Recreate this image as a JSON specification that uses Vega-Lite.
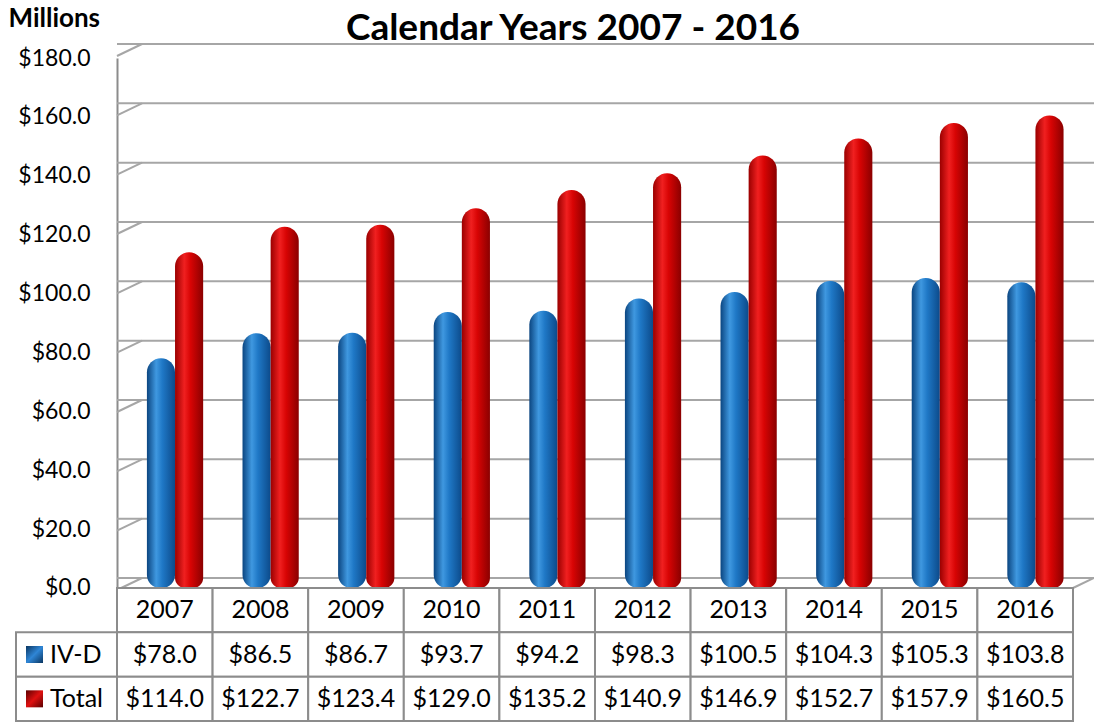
{
  "$schema": "https://vega.github.io/schema/vega-lite/v6.json",
  "width": 956,
  "height": 663,
  "autosize": {"type": "none"},
  "padding": {"left": 117, "top": 58, "right": 21, "bottom": 2},
  "background": "white",
  "config": {"view": {"stroke": null}, "font": "Lato"},
  "title": {"text": "Calendar Years 2007 - 2016", "font": "Lato", "fontSize": 37, "fontWeight": "bold", "color": "black", "anchor": "middle", "frame": "group", "dx": -22, "dy": 47},
  "datasets": {
    "d": [
      {"year": "2007", "series": "IV-D", "value": 78.0},
      {"year": "2008", "series": "IV-D", "value": 86.5},
      {"year": "2009", "series": "IV-D", "value": 86.7},
      {"year": "2010", "series": "IV-D", "value": 93.7},
      {"year": "2011", "series": "IV-D", "value": 94.2},
      {"year": "2012", "series": "IV-D", "value": 98.3},
      {"year": "2013", "series": "IV-D", "value": 100.5},
      {"year": "2014", "series": "IV-D", "value": 104.3},
      {"year": "2015", "series": "IV-D", "value": 105.3},
      {"year": "2016", "series": "IV-D", "value": 103.8},
      {"year": "2007", "series": "Total", "value": 114.0},
      {"year": "2008", "series": "Total", "value": 122.7},
      {"year": "2009", "series": "Total", "value": 123.4},
      {"year": "2010", "series": "Total", "value": 129.0},
      {"year": "2011", "series": "Total", "value": 135.2},
      {"year": "2012", "series": "Total", "value": 140.9},
      {"year": "2013", "series": "Total", "value": 146.9},
      {"year": "2014", "series": "Total", "value": 152.7},
      {"year": "2015", "series": "Total", "value": 157.9},
      {"year": "2016", "series": "Total", "value": 160.5}
    ],
    "grid": [
      {"v": 0}, {"v": 20}, {"v": 40}, {"v": 60}, {"v": 80},
      {"v": 100}, {"v": 120}, {"v": 140}, {"v": 160}, {"v": 180}
    ]
  },
  "layer": [
    {
      "layer": [
        {
          "data": {"name": "grid"},
          "mark": {"type": "rule", "color": "#a6a6a6", "strokeWidth": 2, "xOffset": 25, "x2Offset": 21},
          "encoding": {
            "y": {"field": "v", "type": "quantitative", "scale": {"domain": [-48.2, 175.28], "nice": false, "zero": false}, "axis": null}
          }
        },
        {
          "data": {"name": "grid"},
          "mark": {"type": "rule", "color": "#a6a6a6", "strokeWidth": 2, "yOffset": 12, "x2Offset": 25},
          "encoding": {
            "x": {"datum": "2007", "type": "nominal", "bandPosition": 0, "scale": {"type": "band", "paddingInner": 0, "paddingOuter": 0}, "axis": null},
            "x2": {"datum": "2007", "bandPosition": 0},
            "y": {"field": "v", "type": "quantitative", "scale": {"domain": [-48.2, 175.28], "nice": false, "zero": false}, "axis": null},
            "y2": {"field": "v"}
          }
        },
        {
          "data": {"name": "grid"},
          "transform": [{"filter": "datum.v === 0"}],
          "mark": {"type": "rule", "color": "#a6a6a6", "strokeWidth": 2, "yOffset": 10, "x2Offset": 21},
          "encoding": {
            "x": {"datum": "2016", "type": "nominal", "bandPosition": 1, "scale": {"type": "band", "paddingInner": 0, "paddingOuter": 0}, "axis": null},
            "x2": {"datum": "2016", "bandPosition": 1},
            "y": {"field": "v", "type": "quantitative", "scale": {"domain": [-48.2, 175.28], "nice": false, "zero": false}, "axis": null},
            "y2": {"field": "v"}
          }
        },
        {
          "data": {"name": "d"},
          "transform": [{"filter": "datum.series === 'IV-D'"}],
          "mark": {
            "type": "bar",
            "cornerRadiusTopLeft": 14, "cornerRadiusTopRight": 14, "cornerRadiusBottomLeft": 13, "cornerRadiusBottomRight": 13,
            "color": {"gradient": "linear", "x1": 0, "x2": 1, "y1": 0, "y2": 0, "stops": [
              {"offset": 0, "color": "#0b4580"},
              {"offset": 0.33, "color": "#3f98e0"},
              {"offset": 0.55, "color": "#1f78c6"},
              {"offset": 1, "color": "#0c4a8a"}
            ]}
          },
          "encoding": {
            "x": {"field": "year", "type": "nominal", "scale": {"type": "band", "paddingInner": 0, "paddingOuter": 0}, "axis": null},
            "xOffset": {"field": "series", "scale": {"domain": ["IV-D", "Total"], "paddingInner": 0, "paddingOuter": 0.7, "align": 0.76}},
            "y": {
              "field": "value", "type": "quantitative",
              "scale": {"domain": [-45.17, 180], "nice": false, "zero": false},
              "axis": {
                "values": [0, 20, 40, 60, 80, 100, 120, 140, 160, 180],
                "format": "$.1f", "grid": false, "ticks": false,
                "domain": true, "domainColor": "#8c8c8c", "domainWidth": 2,
                "labelFont": "Lato", "labelFontSize": 23, "labelColor": "black", "labelPadding": 27, "labelOverlap": false,
                "title": "Millions", "titleAngle": 0, "titleAlign": "left", "titleBaseline": "alphabetic",
                "titleX": -109, "titleY": -32, "titleFont": "Lato", "titleFontSize": 26, "titleFontWeight": "bold", "titleColor": "black"
              }
            },
            "y2": {"datum": 0}
          }
        },
        {
          "data": {"name": "d"},
          "transform": [{"filter": "datum.series === 'Total'"}],
          "mark": {
            "type": "bar",
            "cornerRadiusTopLeft": 14, "cornerRadiusTopRight": 14, "cornerRadiusBottomLeft": 10, "cornerRadiusBottomRight": 10,
            "color": {"gradient": "linear", "x1": 0, "x2": 1, "y1": 0, "y2": 0, "stops": [
              {"offset": 0, "color": "#9a0000"},
              {"offset": 0.33, "color": "#f02020"},
              {"offset": 0.55, "color": "#d80404"},
              {"offset": 1, "color": "#8a0000"}
            ]}
          },
          "encoding": {
            "x": {"field": "year", "type": "nominal", "scale": {"type": "band", "paddingInner": 0, "paddingOuter": 0}, "axis": null},
            "xOffset": {"field": "series", "scale": {"domain": ["IV-D", "Total"], "paddingInner": 0, "paddingOuter": 0.7, "align": 0.76}},
            "y": {"field": "value", "type": "quantitative", "scale": {"domain": [-45.17, 180], "nice": false, "zero": false}, "axis": null},
            "y2": {"datum": 0}
          }
        },
        {
          "data": {"name": "d"},
          "transform": [{"filter": "datum.series === 'IV-D'"}],
          "mark": {"type": "rect", "fill": "white", "stroke": "#8c8c8c", "strokeWidth": 2},
          "encoding": {
            "x": {"field": "year", "type": "nominal", "scale": {"type": "band", "paddingInner": 0, "paddingOuter": 0}, "axis": null},
            "y": {"datum": "year", "type": "nominal", "scale": {"type": "band", "domain": ["year", "IV-D", "Total"], "range": [530, 663], "paddingInner": 0, "paddingOuter": 0}, "axis": null}
          }
        },
        {
          "data": {"name": "d"},
          "transform": [{"filter": "datum.series === 'IV-D'"}],
          "mark": {"type": "text", "font": "Lato", "fontSize": 25, "color": "black", "baseline": "middle"},
          "encoding": {
            "x": {"field": "year", "type": "nominal", "scale": {"type": "band", "paddingInner": 0, "paddingOuter": 0}, "axis": null},
            "y": {"datum": "year", "type": "nominal", "scale": {"type": "band", "domain": ["year", "IV-D", "Total"], "range": [530, 663], "paddingInner": 0, "paddingOuter": 0}, "axis": null},
            "text": {"field": "year", "type": "nominal"}
          }
        },
        {
          "data": {"name": "d"},
          "mark": {"type": "rect", "fill": "white", "stroke": "#8c8c8c", "strokeWidth": 2},
          "encoding": {
            "x": {"field": "year", "type": "nominal", "scale": {"type": "band", "paddingInner": 0, "paddingOuter": 0}, "axis": null},
            "y": {"field": "series", "type": "nominal", "scale": {"type": "band", "domain": ["year", "IV-D", "Total"], "range": [530, 663], "paddingInner": 0, "paddingOuter": 0}, "axis": null}
          }
        },
        {
          "data": {"name": "d"},
          "mark": {"type": "text", "font": "Lato", "fontSize": 25, "color": "black", "baseline": "middle"},
          "encoding": {
            "x": {"field": "year", "type": "nominal", "scale": {"type": "band", "paddingInner": 0, "paddingOuter": 0}, "axis": null},
            "y": {"field": "series", "type": "nominal", "scale": {"type": "band", "domain": ["year", "IV-D", "Total"], "range": [530, 663], "paddingInner": 0, "paddingOuter": 0}, "axis": null},
            "text": {"field": "value", "type": "quantitative", "format": "$.1f"}
          }
        }
      ],
      "resolve": {"scale": {"y": "independent"}, "axis": {"y": "independent"}}
    },
    {
      "data": {"name": "d"},
      "transform": [{"filter": "datum.year === '2007'"}],
      "layer": [
        {
          "mark": {"type": "rect", "fill": "white", "stroke": "#8c8c8c", "strokeWidth": 2},
          "encoding": {
            "x": {"datum": "lbl", "type": "nominal", "scale": {"type": "band", "domain": ["lbl"], "range": [-101, 0], "paddingInner": 0, "paddingOuter": 0}, "axis": null},
            "y": {"field": "series", "type": "nominal", "scale": {"type": "band", "domain": ["year", "IV-D", "Total"], "range": [530, 663], "paddingInner": 0, "paddingOuter": 0}, "axis": null}
          }
        },
        {
          "transform": [{"filter": "datum.series === 'IV-D'"}],
          "mark": {"type": "square", "size": 289, "filled": true, "opacity": 1,
            "color": {"gradient": "linear", "x1": 0, "x2": 1, "y1": 0, "y2": 1, "stops": [
              {"offset": 0, "color": "#0a3560"},
              {"offset": 0.5, "color": "#2f86d6"},
              {"offset": 1, "color": "#0a3560"}
            ]}},
          "encoding": {
            "x": {"datum": "lbl", "type": "nominal", "bandPosition": 0.183, "scale": {"type": "band", "domain": ["lbl"], "range": [-101, 0], "paddingInner": 0, "paddingOuter": 0}, "axis": null},
            "y": {"field": "series", "type": "nominal", "scale": {"type": "band", "domain": ["year", "IV-D", "Total"], "range": [530, 663], "paddingInner": 0, "paddingOuter": 0}, "axis": null}
          }
        },
        {
          "transform": [{"filter": "datum.series === 'Total'"}],
          "mark": {"type": "square", "size": 289, "filled": true, "opacity": 1,
            "color": {"gradient": "linear", "x1": 0, "x2": 1, "y1": 0, "y2": 1, "stops": [
              {"offset": 0, "color": "#5a0000"},
              {"offset": 0.5, "color": "#e01010"},
              {"offset": 1, "color": "#5a0000"}
            ]}},
          "encoding": {
            "x": {"datum": "lbl", "type": "nominal", "bandPosition": 0.183, "scale": {"type": "band", "domain": ["lbl"], "range": [-101, 0], "paddingInner": 0, "paddingOuter": 0}, "axis": null},
            "y": {"field": "series", "type": "nominal", "scale": {"type": "band", "domain": ["year", "IV-D", "Total"], "range": [530, 663], "paddingInner": 0, "paddingOuter": 0}, "axis": null}
          }
        },
        {
          "mark": {"type": "text", "font": "Lato", "fontSize": 25, "color": "black", "align": "left", "baseline": "middle"},
          "encoding": {
            "x": {"datum": "lbl", "type": "nominal", "bandPosition": 0.337, "scale": {"type": "band", "domain": ["lbl"], "range": [-101, 0], "paddingInner": 0, "paddingOuter": 0}, "axis": null},
            "y": {"field": "series", "type": "nominal", "scale": {"type": "band", "domain": ["year", "IV-D", "Total"], "range": [530, 663], "paddingInner": 0, "paddingOuter": 0}, "axis": null},
            "text": {"field": "series", "type": "nominal"}
          }
        }
      ]
    }
  ],
  "resolve": {"scale": {"x": "independent", "y": "independent"}, "axis": {"x": "independent", "y": "independent"}}
}
